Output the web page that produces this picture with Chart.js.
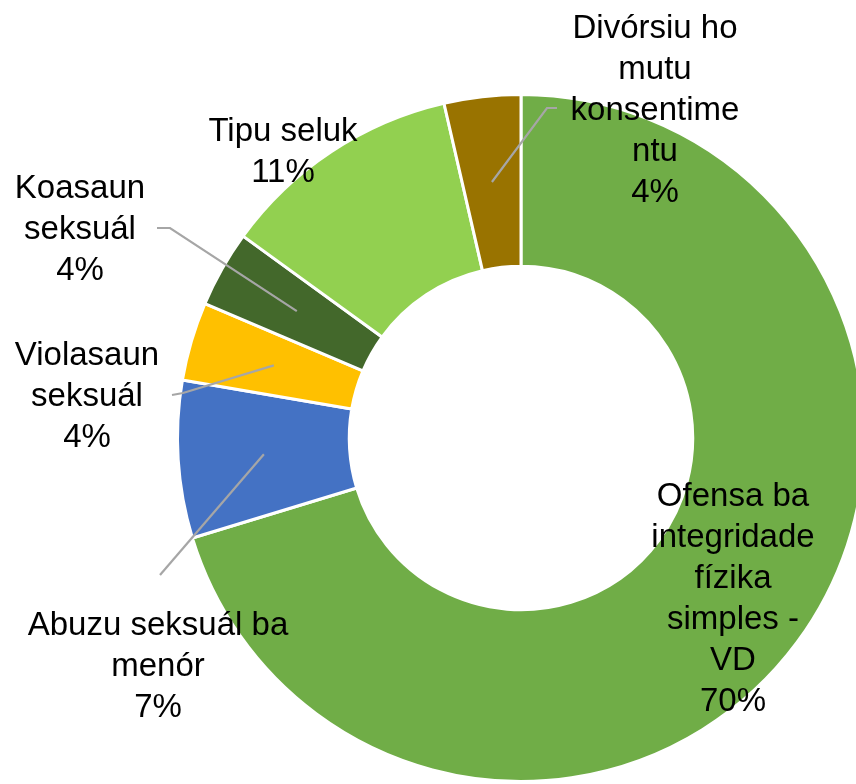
<!DOCTYPE html>
<html>
<head>
<meta charset="utf-8">
<script src="https://cdn.jsdelivr.net/npm/chart.js@4"></script>
<style>
  html, body { margin: 0; padding: 0; background: #fff; overflow: hidden; }
  #wrap { width: 856px; height: 784px; overflow: hidden; position: relative; }
  canvas { position: absolute; left: 0; top: 0; }
</style>
</head>
<body>
<div id="wrap">
  <canvas id="chart" width="1042" height="784"></canvas>
</div>
<script>
// categories (clockwise from 12 o'clock)
const categories = [
  ["Ofensa ba", "integridade", "fízika", "simples -", "VD"],
  ["Abuzu seksuál ba", "menór"],
  ["Violasaun", "seksuál"],
  ["Koasaun", "seksuál"],
  ["Tipu seluk"],
  ["Divórsiu ho", "mutu", "konsentime", "ntu"]
];
// share of cases, percent
const shares = [70.3, 7.4, 3.7, 3.6, 11.4, 3.6];
const colors = ["#70AD47", "#4472C4", "#FFC000", "#43682B", "#92D050", "#997300"];

// where each label block sits and how its leader line starts (null = no leader)
const labelSpots = [
  { x: 733, y: 497, lead: null },
  { x: 158, y: 626, lead: [[160, 575], [160, 575]] },
  { x: 87,  y: 356, lead: [[172, 395], [183, 393]] },
  { x: 80,  y: 189, lead: [[157, 228], [170, 228]] },
  { x: 283, y: 132, lead: null },
  { x: 655, y: 29,  lead: [[557, 108], [547, 108]] }
];

const total = shares.reduce((a, b) => a + b, 0);

const sliceLabels = {
  id: "sliceLabels",
  afterDatasetsDraw(chart) {
    const ctx = chart.ctx;
    const arcs = chart.getDatasetMeta(0).data;
    ctx.save();
    // leader lines
    ctx.strokeStyle = "#A6A6A6";
    ctx.lineWidth = 2.2;
    arcs.forEach((arc, i) => {
      const spot = labelSpots[i];
      if (!spot.lead) return;
      const p = arc.tooltipPosition();
      ctx.beginPath();
      ctx.moveTo(spot.lead[0][0], spot.lead[0][1]);
      ctx.lineTo(spot.lead[1][0], spot.lead[1][1]);
      ctx.lineTo(p.x, p.y);
      ctx.stroke();
    });
    // text
    ctx.fillStyle = "#000";
    ctx.font = "33px 'Liberation Sans', Arial, sans-serif";
    ctx.textAlign = "center";
    ctx.textBaseline = "middle";
    arcs.forEach((arc, i) => {
      const spot = labelSpots[i];
      const lines = categories[i].concat([Math.round(shares[i] / total * 100) + "%"]);
      lines.forEach((t, k) => ctx.fillText(t, spot.x, spot.y + k * 41));
    });
    ctx.restore();
  }
};

new Chart(document.getElementById("chart"), {
  type: "doughnut",
  data: {
    labels: categories.map(c => c.join(" ")),
    datasets: [{
      data: shares,
      backgroundColor: colors,
      borderColor: "#ffffff",
      borderWidth: 3
    }]
  },
  options: {
    responsive: false,
    animation: false,
    cutout: "50%",
    layout: { padding: { top: 93, bottom: 1, left: 0, right: 0 } },
    plugins: {
      legend: { display: false },
      tooltip: { enabled: false }
    }
  },
  plugins: [sliceLabels]
});
</script>
</body>
</html>
